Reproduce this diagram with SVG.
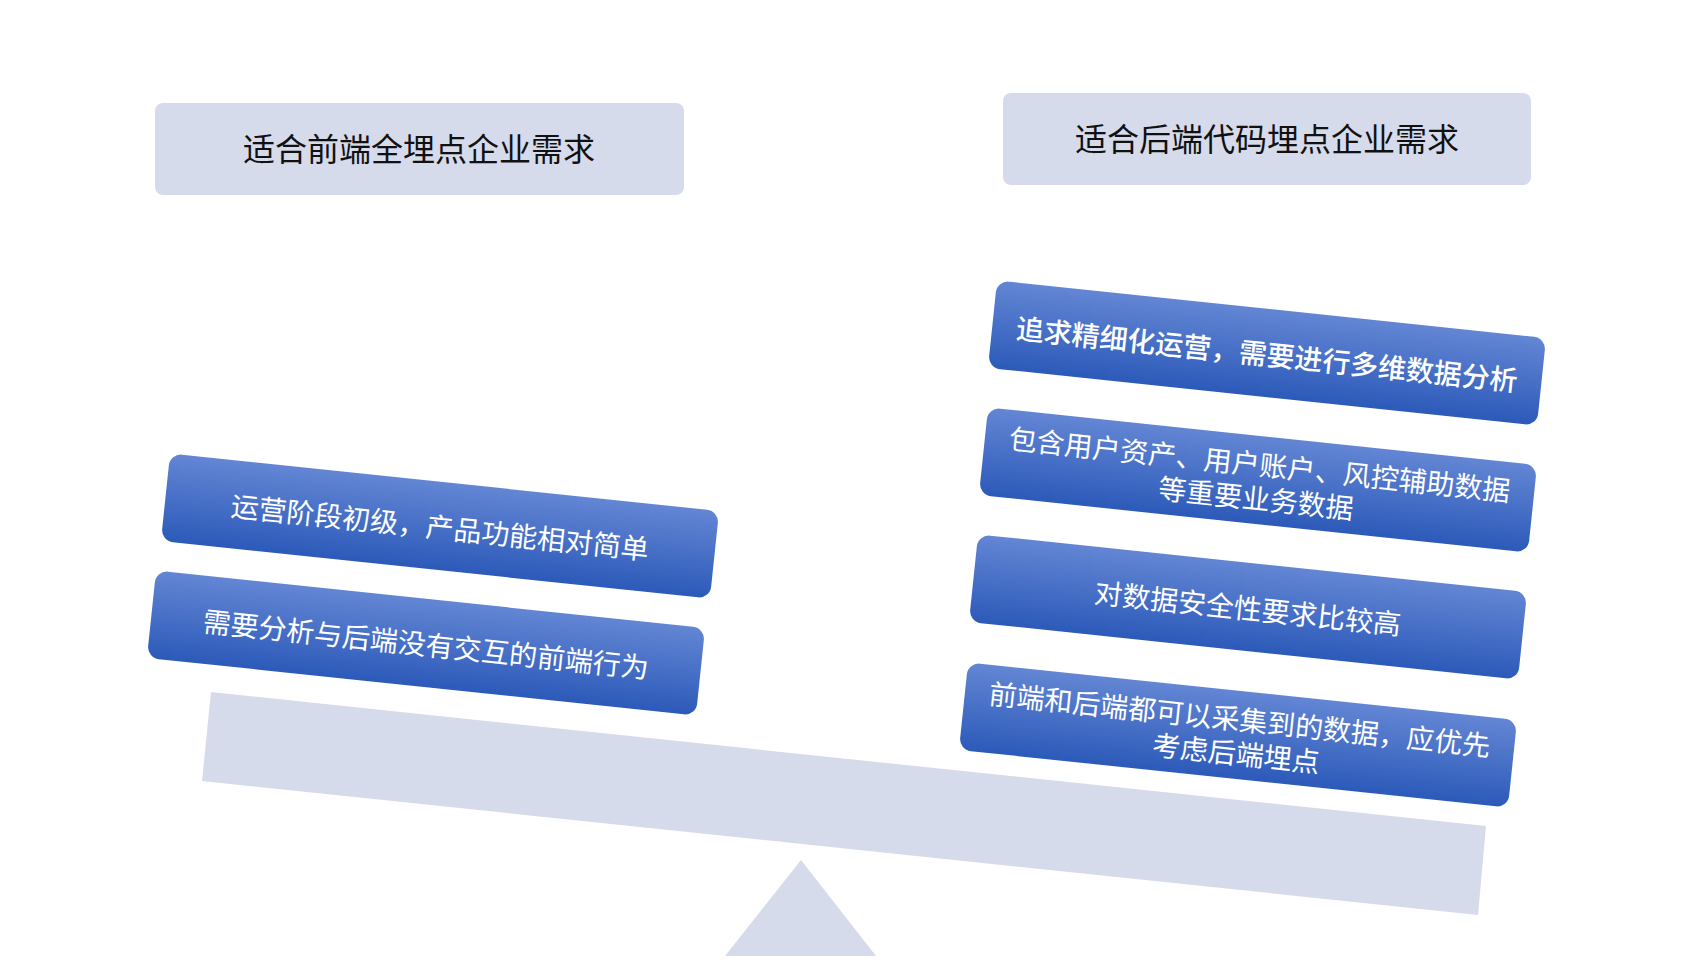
<svg xmlns="http://www.w3.org/2000/svg" width="1688" height="960" viewBox="0 0 1688 960">
<defs>
<linearGradient id="g" x1="0" y1="0" x2="0" y2="1"><stop offset="0" stop-color="#6386d4"/><stop offset="1" stop-color="#2c5ab9"/></linearGradient>
<style>
.h{fill:#d6dbec}
.ht{font-family:"Noto Sans CJK SC","Noto Sans",sans-serif;font-size:32px;fill:#111;text-anchor:middle;dominant-baseline:central}
.b{fill:url(#g)}
.bt{font-family:"Noto Sans CJK SC","Noto Sans",sans-serif;font-size:28px;fill:#fff;text-anchor:middle;dominant-baseline:central}
</style>
</defs>
<rect width="1688" height="960" fill="#fff"/>
<g id="scale">
<polygon class="h" points="211,692 1486,826 1478,915 202,781"/>
<polygon class="h" points="801,860 876,956 725,956"/>
</g>
<g id="hdr-left"><rect class="h" x="155" y="103" width="529" height="92" rx="8"/><text class="ht" x="419" y="147">适合前端全埋点企业需求</text></g>
<g id="hdr-right"><rect class="h" x="1003" y="93" width="528" height="92" rx="8"/><text class="ht" x="1267" y="137">适合后端代码埋点企业需求</text></g>
<g id="l1" transform="translate(440,526) rotate(6)"><rect class="b" x="-276" y="-44" width="552" height="88" rx="12"/><text class="bt" x="0" y="0">运营阶段初级，产品功能相对简单</text></g>
<g id="l2" transform="translate(426,643) rotate(6)"><rect class="b" x="-276" y="-44" width="552" height="88" rx="12"/><text class="bt" x="0" y="0">需要分析与后端没有交互的前端行为</text></g>
<g id="r1" transform="translate(1267,353) rotate(6)"><rect class="b" x="-276" y="-44" width="552" height="88" rx="12"/><text class="bt" x="0" y="0" font-weight="500">追求精细化运营，需要进行多维数据分析</text></g>
<g id="r2" transform="translate(1258,480) rotate(6)"><rect class="b" x="-276" y="-44" width="552" height="88" rx="12"/><text class="bt" x="0" y="-17">包含用户资产、用户账户、风控辅助数据</text><text class="bt" x="0" y="17">等重要业务数据</text></g>
<g id="r3" transform="translate(1248,607) rotate(6)"><rect class="b" x="-276" y="-44" width="552" height="88" rx="12"/><text class="bt" x="0" y="0">对数据安全性要求比较高</text></g>
<g id="r4" transform="translate(1238,735) rotate(6)"><rect class="b" x="-276" y="-44" width="552" height="88" rx="12"/><text class="bt" x="0" y="-17">前端和后端都可以采集到的数据，应优先</text><text class="bt" x="0" y="17">考虑后端埋点</text></g>
<g id="connectors"/>
</svg>
